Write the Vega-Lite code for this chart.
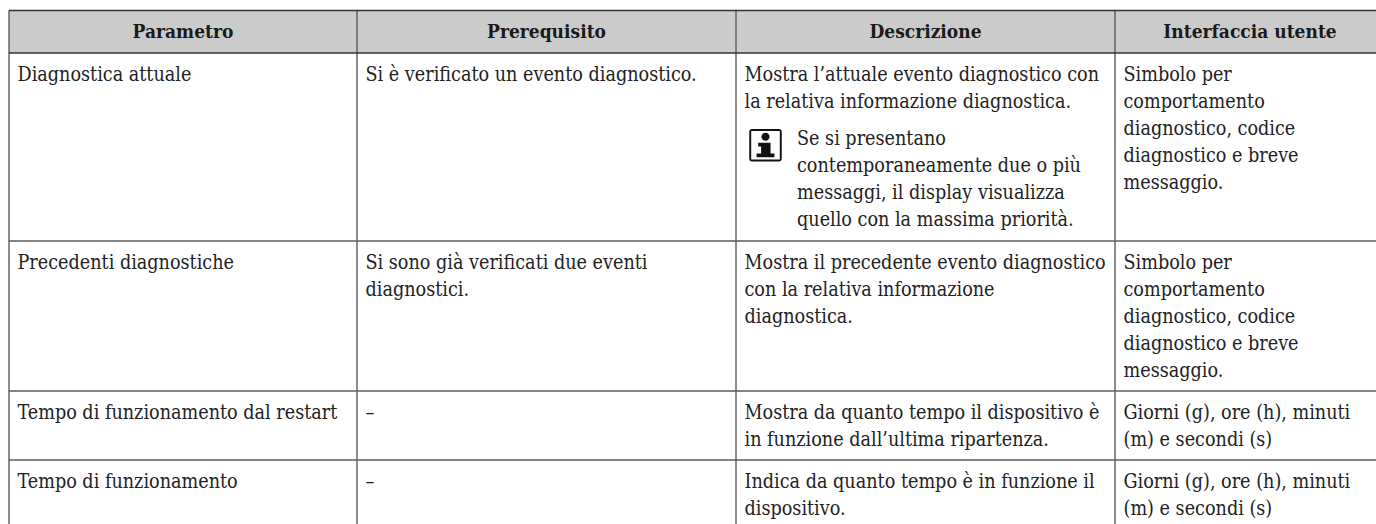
{
  "$schema": "https://vega.github.io/schema/vega-lite/v6.json",
  "width": 1376, "height": 524, "padding": 0, "autosize": "none",
  "background": "white",
  "config": {"view": {"stroke": null}},
  "datasets": {
    "intestazioni": [
      {"centro": 0.5, "riga": 0, "testo": "Parametro"},
      {"centro": 1.5, "riga": 0, "testo": "Prerequisito"},
      {"centro": 2.5, "riga": 0, "testo": "Descrizione"},
      {"centro": 3.5, "riga": 0, "testo": "Interfaccia utente"}
    ],
    "corpo": [
      {"colonna": 0, "riga": 1, "testo": ["Diagnostica attuale"]},
      {"colonna": 1, "riga": 1, "testo": ["Si è verificato un evento diagnostico."]},
      {"colonna": 2, "riga": 1, "testo": ["Mostra l’attuale evento diagnostico con", "la relativa informazione diagnostica."]},
      {"colonna": 3, "riga": 1, "testo": ["Simbolo per", "comportamento", "diagnostico, codice", "diagnostico e breve", "messaggio."]},
      {"colonna": 0, "riga": 2, "testo": ["Precedenti diagnostiche"]},
      {"colonna": 1, "riga": 2, "testo": ["Si sono già verificati due eventi", "diagnostici."]},
      {"colonna": 2, "riga": 2, "testo": ["Mostra il precedente evento diagnostico", "con la relativa informazione", "diagnostica."]},
      {"colonna": 3, "riga": 2, "testo": ["Simbolo per", "comportamento", "diagnostico, codice", "diagnostico e breve", "messaggio."]},
      {"colonna": 0, "riga": 3, "testo": ["Tempo di funzionamento dal restart"]},
      {"colonna": 1, "riga": 3, "testo": ["–"]},
      {"colonna": 2, "riga": 3, "testo": ["Mostra da quanto tempo il dispositivo è", "in funzione dall’ultima ripartenza."]},
      {"colonna": 3, "riga": 3, "testo": ["Giorni (g), ore (h), minuti", "(m) e secondi (s)"]},
      {"colonna": 0, "riga": 4, "testo": ["Tempo di funzionamento"]},
      {"colonna": 1, "riga": 4, "testo": ["–"]},
      {"colonna": 2, "riga": 4, "testo": ["Indica da quanto tempo è in funzione il", "dispositivo."]},
      {"colonna": 3, "riga": 4, "testo": ["Giorni (g), ore (h), minuti", "(m) e secondi (s)"]}
    ],
    "nota": [
      {"colonna": 2, "riga": 1, "testo": ["Se si presentano", "contemporaneamente due o più", "messaggi, il display visualizza", "quello con la massima priorità."]}
    ]
  },
  "layer": [
    {
      "data": {"values": [{"da": 0, "a": 4, "riga": 0, "fine": 1}]},
      "mark": {"type": "rect", "color": "#cbcbcb"},
      "encoding": {
        "x": {"field": "da", "type": "quantitative", "scale": {"domain": [0, 1, 2, 3, 4], "range": [9, 357, 736, 1115, 1385]}, "axis": null},
        "x2": {"field": "a"},
        "y": {"field": "riga", "type": "quantitative", "scale": {"domain": [0, 1, 2, 3, 4, 5], "range": [10.5, 53, 241, 391, 460, 529]}, "axis": null},
        "y2": {"field": "fine"}
      }
    },
    {
      "data": {"values": [{"colonna": 0}, {"colonna": 1}, {"colonna": 2}, {"colonna": 3}]},
      "mark": {"type": "rule", "color": "#5c5c5c", "strokeWidth": 1.4},
      "encoding": {
        "x": {"field": "colonna", "type": "quantitative"},
        "y": {"datum": 0, "type": "quantitative"},
        "y2": {"datum": 5}
      }
    },
    {
      "data": {"values": [{"riga": 2}, {"riga": 3}, {"riga": 4}]},
      "mark": {"type": "rule", "color": "#5c5c5c", "strokeWidth": 1.4},
      "encoding": {
        "y": {"field": "riga", "type": "quantitative"},
        "x": {"datum": 0, "type": "quantitative"},
        "x2": {"datum": 4}
      }
    },
    {
      "data": {"values": [{"riga": 0}, {"riga": 1}]},
      "mark": {"type": "rule", "color": "#333333", "strokeWidth": 1.3},
      "encoding": {
        "y": {"field": "riga", "type": "quantitative"},
        "x": {"datum": 0, "type": "quantitative"},
        "x2": {"datum": 4}
      }
    },
    {
      "data": {"name": "intestazioni"},
      "mark": {"type": "text", "font": "DejaVu Serif Condensed", "fontSize": 19, "fontWeight": "bold", "color": "#1a1a1a", "align": "center", "baseline": "middle", "dy": 21},
      "encoding": {
        "x": {"field": "centro", "type": "quantitative"},
        "y": {"field": "riga", "type": "quantitative"},
        "text": {"field": "testo"}
      }
    },
    {
      "data": {"name": "corpo"},
      "mark": {"type": "text", "font": "DejaVu Serif Condensed", "fontSize": 19.6, "color": "#222222", "align": "left", "baseline": "top", "lineHeight": 27.2, "dx": 8.5, "dy": 12.5},
      "encoding": {
        "x": {"field": "colonna", "type": "quantitative"},
        "y": {"field": "riga", "type": "quantitative"},
        "text": {"field": "testo"}
      }
    },
    {
      "data": {"name": "nota"},
      "mark": {"type": "text", "font": "DejaVu Serif Condensed", "fontSize": 19.6, "color": "#222222", "align": "left", "baseline": "top", "lineHeight": 27.2, "dx": 61, "dy": 76.5},
      "encoding": {
        "x": {"field": "colonna", "type": "quantitative"},
        "y": {"field": "riga", "type": "quantitative"},
        "text": {"field": "testo"}
      }
    },
    {
      "data": {"name": "nota"},
      "mark": {"type": "point", "filled": true, "color": "#111111", "opacity": 1, "size": 1056, "xOffset": 29.5, "yOffset": 92.3,
        "shape": "M-0.82,-1 H0.82 Q1,-1 1,-0.82 V0.82 Q1,1 0.82,1 H-0.82 Q-1,1 -1,0.82 V-0.82 Q-1,-1 -0.82,-1 Z M-0.88,-0.88 V0.88 H0.88 V-0.88 Z M-0.25,-0.53 A0.25,0.25 0 1 0 0.25,-0.53 A0.25,0.25 0 1 0 -0.25,-0.53 Z M-0.45,-0.16 H0.31 V0.5 H0.55 V0.74 H-0.55 V0.5 H-0.27 V0.08 H-0.45 Z"},
      "encoding": {
        "x": {"field": "colonna", "type": "quantitative"},
        "y": {"field": "riga", "type": "quantitative"}
      }
    }
  ]
}
